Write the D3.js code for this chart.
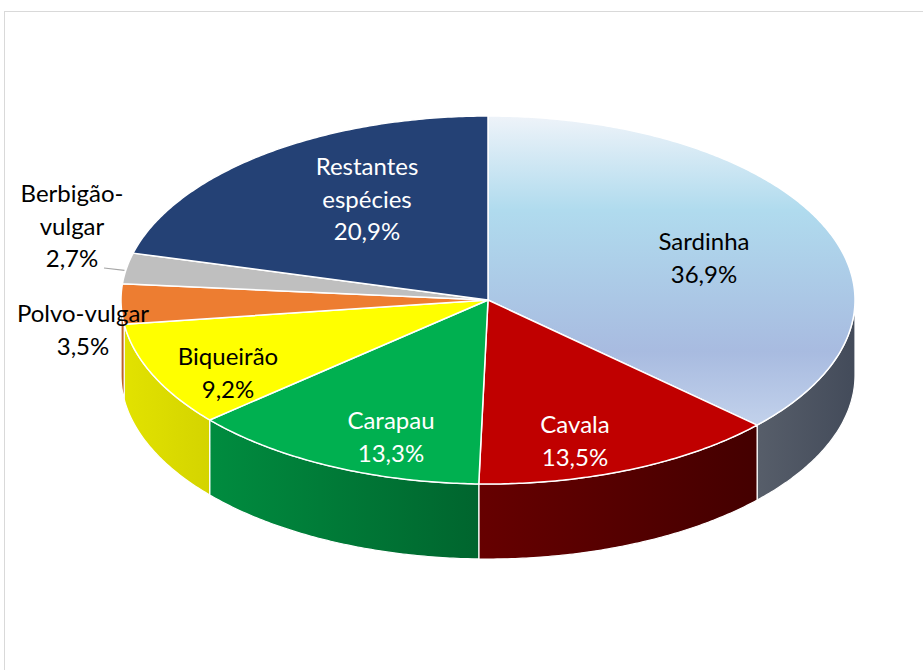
<!DOCTYPE html>
<html>
<head>
<meta charset="utf-8">
<script src="https://cdn.jsdelivr.net/npm/d3@7"></script>
<style>
  body { margin: 0; background: #fff; }
  svg { display: block; }
</style>
</head>
<body>
<svg width="923" height="670"></svg>
<script>
// capture share by species, 3D pie
const categories = ["Sardinha", "Cavala", "Carapau", "Biqueirão", "Polvo-vulgar", "Berbigão-vulgar", "Restantes espécies"];
const values = [36.9, 13.5, 13.3, 9.2, 3.5, 2.7, 20.9];
const labelLines = [["Sardinha"], ["Cavala"], ["Carapau"], ["Biqueirão"], ["Polvo-vulgar"], ["Berbigão-", "vulgar"], ["Restantes", "espécies"]];

// styling per slice
const topColors = ["url(#sardTop)", "#c00000", "#00b050", "#ffff00", "#ed7d31", "#bfbfbf", "#244175"];
const sideColors = [["#575e6a", "#434b5a"], ["#660000", "#440000"], ["#008c3f", "#00652e"], ["#e2e200", "#d4d400"],
                    ["#c86a2a", "#b45c20"], ["#9a9a9a", "#8a8a8a"], ["#1c3360", "#1c3360"]];
const textColors = ["#000", "#fff", "#fff", "#000", "#000", "#000", "#fff"];
// label anchors (x centre, first baseline)
const labelPos = [[704, 250], [575, 433], [391, 429], [228, 365], [83, 322], [72, 202], [367, 175]];

const svg = d3.select('svg');
const cx = 488, cy = 300, rx = 367, ry = 184, depth = 75;
const lineH = 32.5;

// unit circle -> ellipse
const xScale = d3.scaleLinear().domain([-1, 1]).range([cx - rx, cx + rx]);
const yScale = d3.scaleLinear().domain([-1, 1]).range([cy - ry, cy + ry]);
const px = a => xScale(Math.sin(a));
const py = a => yScale(-Math.cos(a));

const defs = svg.append('defs');
const sg = defs.append('linearGradient').attr('id', 'sardTop')
  .attr('gradientUnits', 'userSpaceOnUse')
  .attr('x1', 0).attr('x2', 0).attr('y1', cy - ry).attr('y2', 430);
[[0, '#eef3f9'], [0.3, '#b0dbee'], [0.75, '#a8bbe0'], [1, '#c4d3ec']].forEach(s =>
  sg.append('stop').attr('offset', s[0]).attr('stop-color', s[1]));

// frame
svg.append('rect').attr('x', 4.5).attr('y', 11.5).attr('width', 940).attr('height', 700)
  .attr('fill', 'none').attr('stroke', '#d9d9d9');

const pie = d3.pie().sort(null).startAngle(0).endAngle(2 * Math.PI);
const arcs = pie(values);
const line = d3.line();

function sample(a0, a1) {
  const n = Math.max(2, Math.ceil((a1 - a0) / 0.01));
  return d3.range(n + 1).map(i => a0 + (a1 - a0) * i / n);
}

// side walls (front half only)
const sides = svg.append('g');
arcs.forEach((d, i) => {
  const a0 = Math.max(d.startAngle, Math.PI / 2);
  const a1 = Math.min(d.endAngle, 3 * Math.PI / 2);
  if (a1 <= a0) return;
  const angs = sample(a0, a1);
  const pts = angs.map(a => [px(a), py(a)])
    .concat(angs.slice().reverse().map(a => [px(a), py(a) + depth]));
  const xs = pts.map(p => p[0]);
  const gid = 'side' + i;
  const g = defs.append('linearGradient').attr('id', gid)
    .attr('gradientUnits', 'userSpaceOnUse')
    .attr('x1', d3.min(xs)).attr('x2', d3.max(xs)).attr('y1', 0).attr('y2', 0);
  // lighter on the left, darker on the right
  g.append('stop').attr('offset', 0).attr('stop-color', sideColors[i][0]);
  g.append('stop').attr('offset', 1).attr('stop-color', sideColors[i][1]);
  sides.append('path')
    .attr('d', line(pts) + 'Z')
    .attr('fill', `url(#${gid})`)
    .attr('stroke', '#fff')
    .attr('stroke-width', 1.2)
    .attr('stroke-linejoin', 'round');
});

// top faces
const tops = svg.append('g');
arcs.forEach((d, i) => {
  const pts = [[cx, cy]].concat(sample(d.startAngle, d.endAngle).map(a => [px(a), py(a)]));
  tops.append('path')
    .attr('d', line(pts) + 'Z')
    .attr('fill', topColors[i])
    .attr('stroke', '#fff')
    .attr('stroke-width', 1.5)
    .attr('stroke-linejoin', 'round');
});

// leader line for the small slice
const bb = arcs[5];
const midB = (bb.startAngle + bb.endAngle) / 2;
svg.append('path')
  .attr('d', line([[104, 268], [px(midB) - 2, py(midB) + 2]]))
  .attr('stroke', '#a6a6a6').attr('stroke-width', 1.2).attr('fill', 'none');

// labels
const fmt = v => d3.format('.1f')(v).replace('.', ',') + '%';
const labels = svg.append('g')
  .attr('font-family', 'Lato, "Open Sans", sans-serif')
  .attr('font-size', 24)
  .attr('text-anchor', 'middle');
categories.forEach((c, i) => {
  const lines = labelLines[i].concat([fmt(values[i])]);
  const t = labels.append('text')
    .attr('x', labelPos[i][0]).attr('y', labelPos[i][1])
    .attr('fill', textColors[i]);
  lines.forEach((s, k) => {
    t.append('tspan').attr('x', labelPos[i][0]).attr('y', labelPos[i][1] + k * lineH).text(s);
  });
});
</script>
</body>
</html>
